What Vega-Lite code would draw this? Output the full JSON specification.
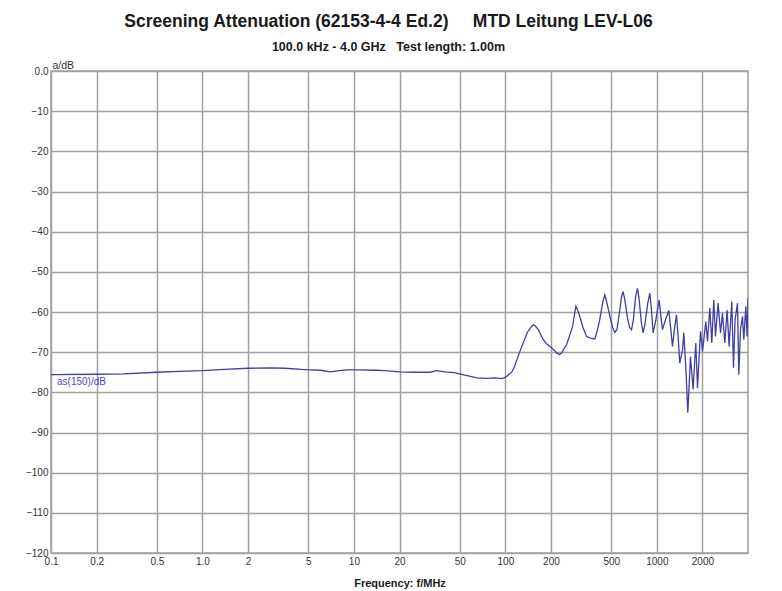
{
  "$schema": "https://vega.github.io/schema/vega-lite/v6.json",
  "width": 697,
  "height": 482,
  "autosize": {"type": "none"},
  "padding": {"left": 51, "top": 71, "right": 34, "bottom": 38},
  "background": "white",
  "config": {
    "font": "Liberation Sans",
    "view": {"stroke": "#a0a0a0", "strokeWidth": 1.5}
  },
  "title": {
    "text": "Screening Attenuation (62153-4-4 Ed.2)\u00a0\u00a0\u00a0\u00a0 MTD Leitung LEV-L06",
    "subtitle": "100.0 kHz - 4.0 GHz\u00a0\u00a0 Test length: 1.00m",
    "fontSize": 17.5,
    "fontWeight": "bold",
    "color": "#1a1a1a",
    "subtitleFontSize": 12.5,
    "subtitleFontWeight": "bold",
    "subtitleColor": "#1a1a1a",
    "anchor": "middle",
    "dx": -11,
    "offset": 7,
    "subtitlePadding": 10
  },
  "datasets": {
    "curve": [
      {"f": 0.1, "a": -75.6}, {"f": 0.2, "a": -75.5}, {"f": 0.3, "a": -75.4},
      {"f": 0.5, "a": -75.0}, {"f": 0.7, "a": -74.8}, {"f": 1.0, "a": -74.6},
      {"f": 1.5, "a": -74.2}, {"f": 2.0, "a": -74.0}, {"f": 2.8, "a": -73.9},
      {"f": 3.5, "a": -74.0}, {"f": 4.5, "a": -74.3}, {"f": 5.1, "a": -74.4},
      {"f": 6.0, "a": -74.5}, {"f": 7.0, "a": -74.9}, {"f": 8.0, "a": -74.6},
      {"f": 9.0, "a": -74.4}, {"f": 11, "a": -74.4}, {"f": 14, "a": -74.5},
      {"f": 16, "a": -74.6}, {"f": 20, "a": -74.9}, {"f": 25, "a": -75.0},
      {"f": 32, "a": -75.0}, {"f": 35, "a": -74.6}, {"f": 40, "a": -74.9},
      {"f": 46, "a": -75.1}, {"f": 55, "a": -75.8}, {"f": 65, "a": -76.4},
      {"f": 75, "a": -76.5}, {"f": 85, "a": -76.4}, {"f": 95, "a": -76.6},
      {"f": 100, "a": -76.3}, {"f": 107, "a": -75.4}, {"f": 111, "a": -74.8},
      {"f": 115, "a": -73.5}, {"f": 122, "a": -70.8}, {"f": 131, "a": -67.7},
      {"f": 140, "a": -65.0}, {"f": 149, "a": -63.6}, {"f": 153, "a": -63.2},
      {"f": 158, "a": -63.5}, {"f": 165, "a": -64.4}, {"f": 172, "a": -65.8},
      {"f": 178, "a": -66.9}, {"f": 187, "a": -67.9}, {"f": 197, "a": -68.6},
      {"f": 210, "a": -69.5}, {"f": 220, "a": -70.3}, {"f": 227, "a": -70.6},
      {"f": 235, "a": -70.2}, {"f": 245, "a": -69.0}, {"f": 254, "a": -68.1},
      {"f": 265, "a": -66.0}, {"f": 278, "a": -63.6}, {"f": 285, "a": -61.0},
      {"f": 292, "a": -58.6}, {"f": 300, "a": -59.5}, {"f": 310, "a": -61.1},
      {"f": 325, "a": -63.8}, {"f": 344, "a": -66.1}, {"f": 365, "a": -66.5},
      {"f": 390, "a": -66.7}, {"f": 405, "a": -64.5}, {"f": 420, "a": -61.9},
      {"f": 440, "a": -57.5}, {"f": 454, "a": -55.7}, {"f": 470, "a": -58.0},
      {"f": 490, "a": -61.1}, {"f": 510, "a": -63.8}, {"f": 528, "a": -65.1},
      {"f": 545, "a": -64.4}, {"f": 565, "a": -60.5}, {"f": 585, "a": -56.2},
      {"f": 599, "a": -54.9}, {"f": 615, "a": -57.0}, {"f": 640, "a": -61.5},
      {"f": 660, "a": -63.8}, {"f": 681, "a": -64.4}, {"f": 700, "a": -62.0},
      {"f": 725, "a": -56.0}, {"f": 746, "a": -54.1}, {"f": 765, "a": -57.0},
      {"f": 790, "a": -62.5}, {"f": 812, "a": -65.2}, {"f": 835, "a": -63.0},
      {"f": 870, "a": -58.0}, {"f": 899, "a": -55.3}, {"f": 920, "a": -59.0},
      {"f": 945, "a": -65.2}, {"f": 985, "a": -62.0}, {"f": 1036, "a": -57.0},
      {"f": 1060, "a": -60.5}, {"f": 1090, "a": -64.4}, {"f": 1140, "a": -62.0},
      {"f": 1200, "a": -59.6}, {"f": 1235, "a": -64.0}, {"f": 1269, "a": -68.6},
      {"f": 1310, "a": -64.0}, {"f": 1349, "a": -60.7}, {"f": 1385, "a": -66.5},
      {"f": 1418, "a": -72.7}, {"f": 1478, "a": -69.4}, {"f": 1507, "a": -65.2},
      {"f": 1560, "a": -75.0}, {"f": 1602, "a": -85.1}, {"f": 1669, "a": -71.1},
      {"f": 1736, "a": -79.3}, {"f": 1809, "a": -67.7}, {"f": 1856, "a": -78.9},
      {"f": 1943, "a": -64.8}, {"f": 2003, "a": -69.8}, {"f": 2106, "a": -62.4},
      {"f": 2161, "a": -67.3}, {"f": 2238, "a": -59.0}, {"f": 2307, "a": -67.7},
      {"f": 2378, "a": -57.0}, {"f": 2441, "a": -66.1}, {"f": 2539, "a": -57.8},
      {"f": 2634, "a": -65.2}, {"f": 2715, "a": -60.3}, {"f": 2811, "a": -67.7},
      {"f": 2911, "a": -59.5}, {"f": 3001, "a": -68.6}, {"f": 3126, "a": -57.4},
      {"f": 3208, "a": -73.9}, {"f": 3287, "a": -61.9}, {"f": 3409, "a": -57.8},
      {"f": 3478, "a": -75.6}, {"f": 3569, "a": -64.4}, {"f": 3679, "a": -61.1},
      {"f": 3753, "a": -66.9}, {"f": 3868, "a": -58.6}, {"f": 3945, "a": -66.1},
      {"f": 4000, "a": -56.5}
    ],
    "note": [{"f": 0.1, "a": -75.6, "label": "as(150)/dB"}]
  },
  "encoding": {
    "x": {
      "field": "f",
      "type": "quantitative",
      "scale": {"type": "log", "domain": [0.1, 4000], "nice": false},
      "axis": {
        "title": "Frequency: f/MHz",
        "titleFontSize": 11,
        "titleFontWeight": "bold",
        "titleColor": "#1a1a1a",
        "titlePadding": 11,
        "values": [0.1, 0.2, 0.5, 1, 2, 5, 10, 20, 50, 100, 200, 500, 1000, 2000],
        "labelExpr": "datum.value == 0.1 ? '0.1' : datum.value == 0.2 ? '0.2' : datum.value == 0.5 ? '0.5' : datum.value == 1 ? '1.0' : format(datum.value, 'd')",
        "labelFlush": false,
        "labelOverlap": false,
        "labelFontSize": 10,
        "labelColor": "#333333",
        "labelPadding": 3,
        "ticks": false,
        "domain": false,
        "grid": true,
        "gridColor": "#a0a0a0",
        "gridWidth": 1.5
      }
    },
    "y": {
      "field": "a",
      "type": "quantitative",
      "scale": {"domain": [-120, 0], "nice": false},
      "axis": {
        "title": "a/dB",
        "titleAngle": 0,
        "titleAlign": "left",
        "titleBaseline": "bottom",
        "titleX": 1,
        "titleY": -1,
        "titleFontSize": 10.5,
        "titleFontWeight": "normal",
        "titleColor": "#333333",
        "values": [0, -10, -20, -30, -40, -50, -60, -70, -80, -90, -100, -110, -120],
        "labelExpr": "datum.value == 0 ? '0.0' : datum.label",
        "labelFontSize": 10,
        "labelColor": "#333333",
        "labelPadding": 3,
        "ticks": false,
        "domain": false,
        "grid": true,
        "gridColor": "#a0a0a0",
        "gridWidth": 1.5
      }
    }
  },
  "layer": [
    {
      "data": {"name": "curve"},
      "mark": {"type": "line", "color": "#3f3fa5", "strokeWidth": 1.3, "clip": true}
    },
    {
      "data": {"name": "note"},
      "mark": {"type": "text", "align": "left", "baseline": "top", "dx": 6, "dy": 2, "fontSize": 10, "color": "#4a4ab5"},
      "encoding": {"text": {"field": "label"}}
    }
  ]
}
